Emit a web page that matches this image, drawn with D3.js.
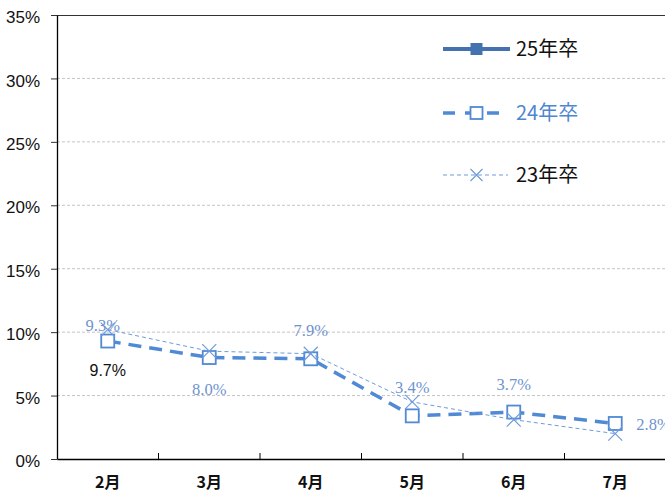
<!DOCTYPE html>
<html><head><meta charset="utf-8">
<script src="https://cdn.jsdelivr.net/npm/d3@7/dist/d3.min.js"></script>
<style>body{margin:0;background:#fff}svg{display:block}</style>
</head><body>
<svg id="c" width="665" height="500"></svg>
<script>
const categories = ["2月","3月","4月","5月","6月","7月"];
const yTicks = [0,5,10,15,20,25,30,35];
const seriesNames = ["25年卒","24年卒","23年卒"];
const values25 = [];
const values24 = [9.3, 8.0, 7.9, 3.4, 3.7, 2.8];
const values23 = [10.2, 8.5, 8.3, 4.5, 3.1, 2.0];
const labels24 = ["9.3%","8.0%","7.9%","3.4%","3.7%","2.8%"];
const extraLabel = {cat:"2月", text:"9.7%"};

const svg = d3.select("#c");
const L = 57, R = 666, T = 15, B = 459;
const x = d3.scaleBand().domain(categories).range([L, R]);
const y = d3.scaleLinear().domain([0,35]).range([B, T]);
const cx = d => x(d) + x.bandwidth()/2;

const c24 = "#5089d4", c23 = "#6f9bdb", c25 = "#4472ae", cLab = "#6e93cf";

// gridlines
svg.append("g").selectAll("line").data(yTicks.filter(t => t>0 && t<35)).join("line")
  .attr("x1", L).attr("x2", R).attr("y1", d=>y(d)).attr("y2", d=>y(d))
  .attr("stroke","#c4c4c4").attr("stroke-dasharray","3,2").attr("stroke-width",1);
// top border
svg.append("line").attr("x1",L).attr("x2",R).attr("y1",y(35)+0.5).attr("y2",y(35)+0.5)
  .attr("stroke","#333").attr("stroke-width",1);

// y axis
const ya = svg.append("g").attr("transform",`translate(${L},0)`)
  .call(d3.axisLeft(y).tickValues(yTicks).tickFormat(d=>d+"%").tickSizeInner(6).tickSizeOuter(0).tickPadding(11));
ya.select(".domain").attr("stroke","#000").attr("stroke-width",1.3);
ya.selectAll(".tick line").attr("stroke","#333");
ya.selectAll(".tick text").attr("font-family","'Liberation Sans', Arial, sans-serif").attr("font-size",17).attr("fill","#111").attr("dy","0.45em");

// x axis
const xa = svg.append("g").attr("transform",`translate(0,${B})`)
  .call(d3.axisBottom(x).tickSize(0).tickPadding(18));
xa.select(".domain").attr("stroke","#000").attr("stroke-width",1.5);
xa.selectAll(".tick text").attr("font-family","'Noto Sans CJK JP', sans-serif").attr("font-weight","bold").attr("font-size",16).attr("fill","#111");
// x ticks at band boundaries (inward)
svg.append("g").selectAll("line").data(categories.slice(1)).join("line")
  .attr("x1", d=>x(d)).attr("x2", d=>x(d)).attr("y1", B).attr("y2", B-6)
  .attr("stroke","#000").attr("stroke-width",1);

// 24年卒 line
const line = d3.line().x((d,i)=>cx(categories[i])).y(d=>y(d));
svg.append("path").datum(values24).attr("d", line).attr("fill","none")
  .attr("stroke", c24).attr("stroke-width",3.5).attr("stroke-dasharray","13,8");
svg.append("g").selectAll("rect").data(values24).join("rect")
  .attr("x",(d,i)=>cx(categories[i])-6.5).attr("y",d=>y(d)-6.5).attr("width",13).attr("height",13)
  .attr("fill","#fff").attr("stroke",c24).attr("stroke-width",1.8);

// 23年卒 line
svg.append("path").datum(values23).attr("d", line).attr("fill","none")
  .attr("stroke", c23).attr("stroke-width",1).attr("stroke-dasharray","4,3");
const xMark = (g, px, py, s, col, w) => {
  g.append("path").attr("d",`M${px-s},${py-s}L${px+s},${py+s}M${px-s},${py+s}L${px+s},${py-s}`)
   .attr("stroke",col).attr("stroke-width",w).attr("fill","none");
};
const gx = svg.append("g");
values23.forEach((v,i)=>xMark(gx, cx(categories[i]), y(v), 7, c23, 1.2));

// 24年卒 data labels
const place = [[-5,-10,"middle"],[0,37,"middle"],[0,-23,"middle"],[0,-23,"middle"],[0,-22,"middle"],[21,7,"start"]];
svg.append("g").selectAll("text").data(labels24).join("text")
  .attr("x",(d,i)=>cx(categories[i])+place[i][0])
  .attr("y",(d,i)=>y(values24[i])+place[i][1])
  .attr("text-anchor",(d,i)=>place[i][2])
  .attr("font-family","'Liberation Serif', 'DejaVu Serif', serif").attr("font-size",16.5)
  .attr("fill",cLab).text(d=>d);
svg.append("text").attr("x",cx(extraLabel.cat)).attr("y",376).attr("text-anchor","middle")
  .attr("font-family","'Liberation Sans', Arial, sans-serif").attr("font-size",16).attr("fill","#111")
  .text(extraLabel.text);

// legend
const lg = svg.append("g");
const lx1 = 443, lx2 = 510, lmid = 476.5, ltx = 516;
const rowY = [49, 113, 175];
// 25
lg.append("line").attr("x1",lx1).attr("x2",lx2).attr("y1",rowY[0]).attr("y2",rowY[0]).attr("stroke",c25).attr("stroke-width",4);
lg.append("rect").attr("x",lmid-6).attr("y",rowY[0]-6).attr("width",12).attr("height",12).attr("fill",c25);
// 24
lg.append("line").attr("x1",lx1).attr("x2",lx2-1).attr("y1",rowY[1]).attr("y2",rowY[1]).attr("stroke",c24).attr("stroke-width",3.5).attr("stroke-dasharray","12,10");
lg.append("rect").attr("x",lmid-6).attr("y",rowY[1]-6).attr("width",12).attr("height",12).attr("fill","#fff").attr("stroke",c24).attr("stroke-width",1.8);
// 23
lg.append("line").attr("x1",lx1).attr("x2",lx2-2).attr("y1",rowY[2]).attr("y2",rowY[2]).attr("stroke",c23).attr("stroke-width",1).attr("stroke-dasharray","4,3");
xMark(lg, lmid, rowY[2], 6, c23, 1.2);
const legCols = ["#111", "#4f86d0", "#111"];
lg.selectAll("text").data(seriesNames).join("text")
  .attr("x",ltx).attr("y",(d,i)=>rowY[i]+7)
  .attr("font-family","'Noto Sans CJK JP', sans-serif").attr("font-size",20)
  .attr("fill",(d,i)=>legCols[i]).text(d=>d);
</script>
</body></html>
